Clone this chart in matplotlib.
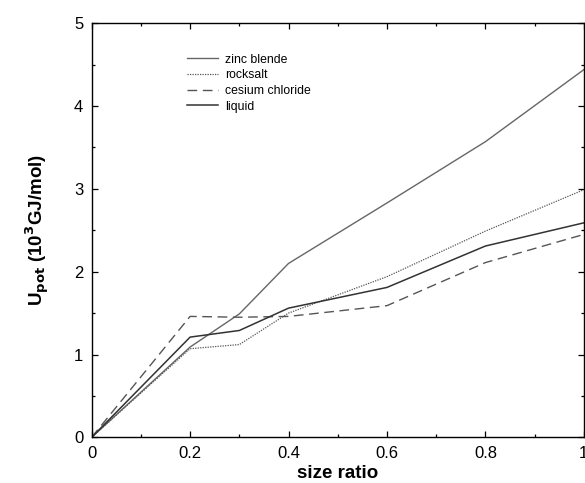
import matplotlib
matplotlib.use("Agg")
import matplotlib.pyplot as plt
from matplotlib.ticker import MultipleLocator

plt.rcParams['font.family'] = ['Liberation Sans', 'DejaVu Sans']

ratio = [0.0, 0.2, 0.3, 0.4, 0.6, 0.8, 1.0]
zinc_blende = [0.0, 1.09, 1.49, 2.10, 2.83, 3.57, 4.44]
rocksalt = [0.0, 1.07, 1.12, 1.50, 1.94, 2.49, 2.99]
cesium_chloride = [0.0, 1.46, 1.45, 1.46, 1.59, 2.11, 2.45]
liquid = [0.0, 1.21, 1.29, 1.56, 1.81, 2.31, 2.59]
x_ticks = [0.0, 0.2, 0.4, 0.6, 0.8, 1.0]
x_ticklabels = ['0', '0.2', '0.4', '0.6', '0.8', '1']

fig = plt.figure(figsize=(5.85, 4.83), dpi=100)
ax = fig.add_axes([0.1567, 0.0946, 0.8413, 0.8572])

ax.plot(ratio, zinc_blende, color='#666666', lw=1.0, label='zinc blende')
ax.plot(ratio, rocksalt, color='#555555', lw=0.9, ls=(0, (1, 1)), label='rocksalt')
ax.plot(ratio, cesium_chloride, color='#555555', lw=1.0, ls=(0, (7, 4)), label='cesium chloride')
ax.plot(ratio, liquid, color='#333333', lw=1.1, label='liquid')

ax.set_xlim(0, 1)
ax.set_ylim(0, 5)
ax.set_xticks(x_ticks)
ax.set_xticklabels(x_ticklabels)
ax.xaxis.set_minor_locator(MultipleLocator(0.1))
ax.yaxis.set_major_locator(MultipleLocator(1))
ax.yaxis.set_minor_locator(MultipleLocator(0.5))
ax.tick_params(which='both', direction='in', top=True, right=True, labelsize=12, width=0.9)
ax.tick_params(which='major', length=4)
ax.tick_params(which='minor', length=2.5)
ax.tick_params(axis='x', pad=6)
ax.tick_params(axis='y', pad=6)

for s in ax.spines.values():
    s.set_linewidth(1.0)

ax.set_xlabel('size ratio', fontsize=13.5, fontweight='bold', labelpad=3)
ax.set_ylabel(r'U$_{\mathbf{pot}}$ (10$^{\mathbf{3}}$GJ/mol)', fontsize=13.5, fontweight='bold', labelpad=16)

leg = ax.legend(loc='upper left', bbox_to_anchor=(0.172, 0.953), frameon=False, fontsize=8.8,
                handlelength=2.5, handletextpad=0.6, labelspacing=0.3)

fig.savefig('out.png', dpi=100)
